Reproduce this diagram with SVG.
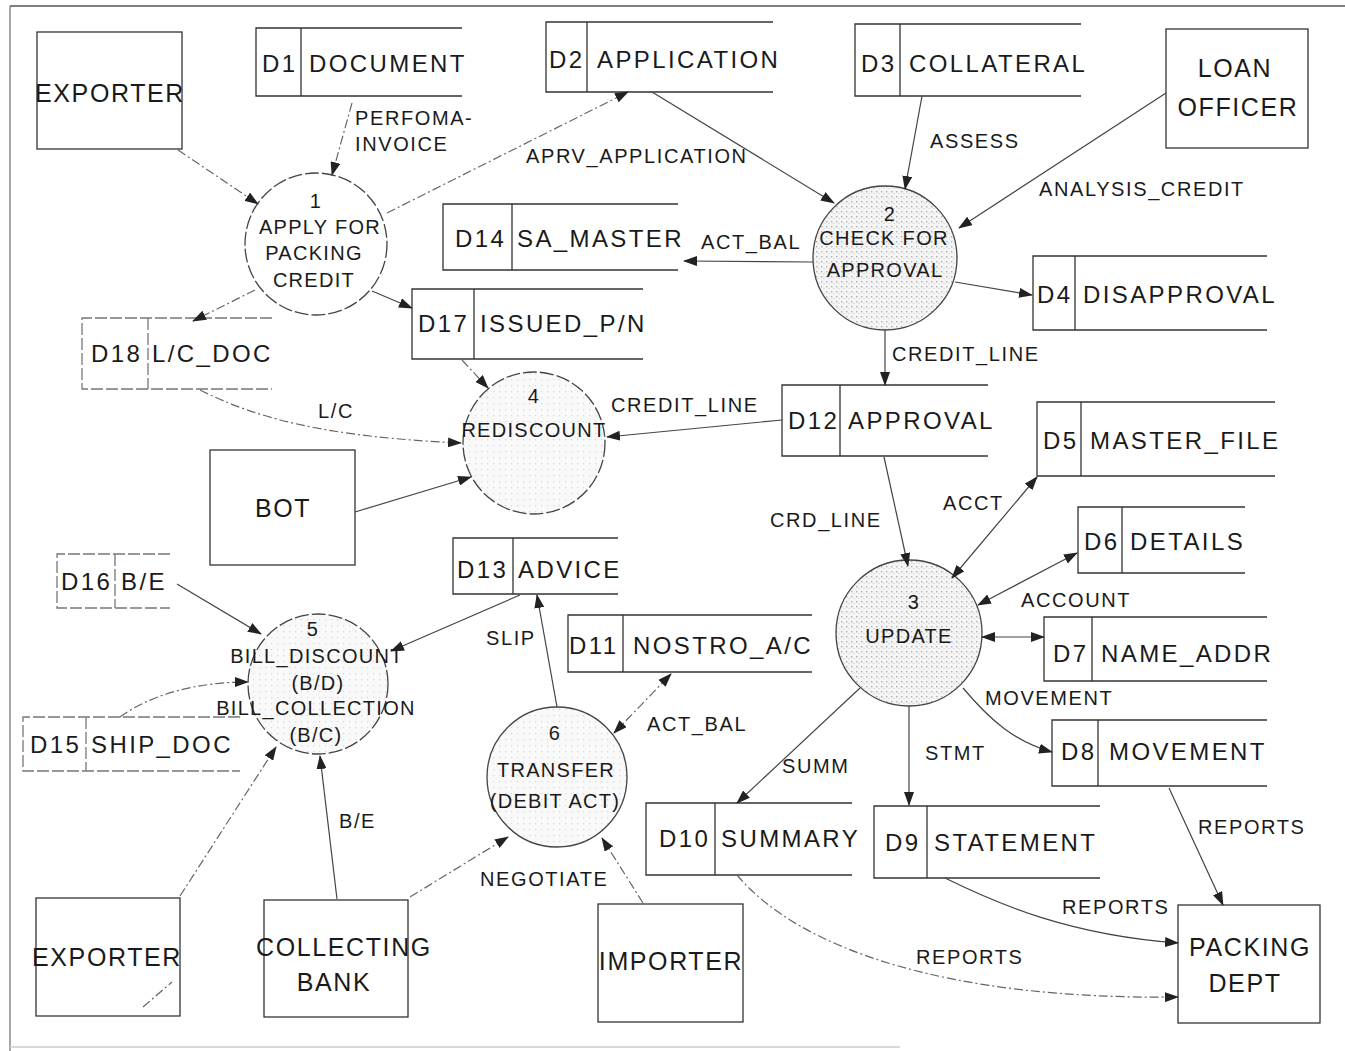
<svg xmlns="http://www.w3.org/2000/svg" width="1345" height="1051" viewBox="0 0 1345 1051">
  <defs>
    <style>
      text { font-family: "Liberation Sans", Arial, sans-serif; fill: #1a1a1a; }
      .store { font-size: 24px; letter-spacing: 2.4px; }
      .ent { font-size: 25px; letter-spacing: 1.6px; text-anchor: middle; }
      .proc { font-size: 20px; letter-spacing: 1.3px; text-anchor: middle; }
      .lbl { font-size: 20px; letter-spacing: 1.6px; }
      .box { fill: none; stroke: #333; stroke-width: 1.3; }
      .ln { fill: none; stroke: #333; stroke-width: 1.3; }
      .flow { fill: none; stroke: #444; stroke-width: 1.2; marker-end: url(#ah); }
      .dash { stroke-dasharray: 9 3 2 3; stroke: #666; }
      .both { marker-start: url(#ah); }
      .circ { stroke: #444; stroke-width: 1.3; }
      .faint { stroke: #777; stroke-dasharray: 12 3; }
    </style>
    <marker id="ah" viewBox="0 0 14 10" refX="13" refY="5" markerWidth="14" markerHeight="10" markerUnits="userSpaceOnUse" orient="auto-start-reverse">
      <path d="M0,0 L14,5 L0,10 Z" fill="#222"/>
    </marker>
    <pattern id="stipDark" width="5" height="5" patternUnits="userSpaceOnUse">
      <rect width="5" height="5" fill="#f5f5f5"/>
      <rect x="1" y="1" width="1.4" height="1.4" fill="#b0b0b0"/>
      <rect x="3.5" y="3" width="1" height="1" fill="#cacaca"/>
    </pattern>
    <pattern id="stipLight" width="6" height="6" patternUnits="userSpaceOnUse">
      <rect width="6" height="6" fill="#f9f9f9"/>
      <rect x="1" y="1" width="1.2" height="1.2" fill="#d6d6d6"/>
    </pattern>
  </defs>

  <rect width="1345" height="1051" fill="#ffffff"/>

  <!-- page frame -->
  <g id="frame" class="ln" stroke-width="1">
    <line x1="10" y1="6" x2="1345" y2="6" stroke="#555"/>
    <line x1="10" y1="6" x2="10" y2="1051" stroke="#777"/>
    <line x1="10" y1="1047" x2="900" y2="1047" stroke="#ccc"/>
  </g>

  <!-- external entities -->
  <g id="exporter-top">
    <rect class="box" x="37" y="32" width="145" height="117" fill="#fff"/>
    <text class="ent" x="110" y="102">EXPORTER</text>
  </g>
  <g id="loan-officer">
    <rect class="box" x="1166" y="29" width="142" height="119" fill="url(#stipLight)"/>
    <text class="ent" x="1235" y="77">LOAN</text>
    <text class="ent" x="1238" y="116">OFFICER</text>
  </g>
  <g id="bot">
    <rect class="box" x="210" y="450" width="145" height="115" fill="#fff"/>
    <text class="ent" x="283" y="517">BOT</text>
  </g>
  <g id="exporter-bottom">
    <rect class="box" x="36" y="898" width="144" height="118" fill="#fff"/>
    <text class="ent" x="107" y="966">EXPORTER</text>
  </g>
  <g id="collecting-bank">
    <rect class="box" x="264" y="900" width="144" height="117" fill="#fff"/>
    <text class="ent" x="344" y="956">COLLECTING</text>
    <text class="ent" x="334" y="991">BANK</text>
  </g>
  <g id="importer">
    <rect class="box" x="598" y="904" width="145" height="118" fill="#fff"/>
    <text class="ent" x="671" y="970">IMPORTER</text>
  </g>
  <g id="packing-dept">
    <rect class="box" x="1178" y="905" width="142" height="118" fill="url(#stipLight)"/>
    <text class="ent" x="1250" y="956">PACKING</text>
    <text class="ent" x="1245" y="992">DEPT</text>
  </g>

  <!-- data stores: open-ended boxes with an id cell -->
  <g id="d1">
    <path class="box" d="M462,28 H256 V96 H462 M301,28 V96"/>
    <text class="store" x="262" y="72">D1</text>
    <text class="store" x="309" y="72">DOCUMENT</text>
  </g>
  <g id="d2">
    <path class="box" d="M773,22 H546 V92 H773 M587,22 V92"/>
    <text class="store" x="549" y="68">D2</text>
    <text class="store" x="597" y="68">APPLICATION</text>
  </g>
  <g id="d3">
    <path class="box" d="M1081,24 H855 V96 H1081 M900,24 V96"/>
    <text class="store" x="861" y="72">D3</text>
    <text class="store" x="909" y="72">COLLATERAL</text>
  </g>
  <g id="d14">
    <path class="box" d="M678,204 H443 V270 H678 M512,204 V270"/>
    <text class="store" x="455" y="247">D14</text>
    <text class="store" x="517" y="247">SA_MASTER</text>
  </g>
  <g id="d4">
    <path class="box" d="M1267,256 H1033 V330 H1267 M1075,256 V330"/>
    <text class="store" x="1037" y="303">D4</text>
    <text class="store" x="1083" y="303">DISAPPROVAL</text>
  </g>
  <g id="d17">
    <path class="box" d="M643,289 H412 V359 H643 M474,289 V359"/>
    <text class="store" x="418" y="332">D17</text>
    <text class="store" x="480" y="332">ISSUED_P/N</text>
  </g>
  <g id="d18">
    <path class="box faint" d="M272,318 H82 V389 H272 M148,318 V389"/>
    <text class="store" x="91" y="362">D18</text>
    <text class="store" x="152" y="362">L/C_DOC</text>
  </g>
  <g id="d12">
    <path class="box" d="M988,385 H782 V456 H988 M840,385 V456"/>
    <text class="store" x="788" y="429">D12</text>
    <text class="store" x="848" y="429">APPROVAL</text>
  </g>
  <g id="d5">
    <path class="box" d="M1275,402 H1037 V476 H1275 M1081,402 V476"/>
    <text class="store" x="1043" y="449">D5</text>
    <text class="store" x="1090" y="449">MASTER_FILE</text>
  </g>
  <g id="d6">
    <path class="box" d="M1245,507 H1078 V573 H1245 M1122,507 V573"/>
    <text class="store" x="1084" y="550">D6</text>
    <text class="store" x="1130" y="550">DETAILS</text>
  </g>
  <g id="d7">
    <path class="box" d="M1267,617 H1044 V681 H1267 M1092,617 V681"/>
    <text class="store" x="1053" y="662">D7</text>
    <text class="store" x="1101" y="662">NAME_ADDR</text>
  </g>
  <g id="d8">
    <path class="box" d="M1267,720 H1052 V786 H1267 M1098,720 V786"/>
    <text class="store" x="1061" y="760">D8</text>
    <text class="store" x="1109" y="760">MOVEMENT</text>
  </g>
  <g id="d9">
    <path class="box" d="M1100,806 H874 V878 H1100 M927,806 V878"/>
    <text class="store" x="885" y="851">D9</text>
    <text class="store" x="934" y="851">STATEMENT</text>
  </g>
  <g id="d10">
    <path class="box" d="M852,803 H646 V875 H852 M715,803 V875"/>
    <text class="store" x="659" y="847">D10</text>
    <text class="store" x="721" y="847">SUMMARY</text>
  </g>
  <g id="d13">
    <path class="box" d="M618,538 H453 V594 H618 M513,538 V594"/>
    <text class="store" x="457" y="578">D13</text>
    <text class="store" x="518" y="578">ADVICE</text>
  </g>
  <g id="d16">
    <path class="box faint" d="M170,554 H57 V608 H170 M115,554 V608"/>
    <text class="store" x="61" y="590">D16</text>
    <text class="store" x="121" y="590">B/E</text>
  </g>
  <g id="d11">
    <path class="box" d="M812,615 H568 V672 H812 M623,615 V672"/>
    <text class="store" x="569" y="654">D11</text>
    <text class="store" x="633" y="654">NOSTRO_A/C</text>
  </g>
  <g id="d15">
    <path class="box faint" d="M240,717 H23 V771 H240 M86,717 V771"/>
    <text class="store" x="30" y="753">D15</text>
    <text class="store" x="91" y="753">SHIP_DOC</text>
  </g>

  <!-- processes -->
  <g id="p1">
    <circle class="circ" cx="316" cy="244" r="71" fill="#fff" stroke-dasharray="14 3"/>
    <text class="proc" x="316" y="208">1</text>
    <text class="proc" x="320" y="234">APPLY FOR</text>
    <text class="proc" x="314" y="260">PACKING</text>
    <text class="proc" x="314" y="287">CREDIT</text>
  </g>
  <g id="p2">
    <circle class="circ" cx="885" cy="258" r="72" fill="url(#stipDark)"/>
    <text class="proc" x="890" y="221">2</text>
    <text class="proc" x="884" y="245">CHECK FOR</text>
    <text class="proc" x="885" y="277">APPROVAL</text>
  </g>
  <g id="p4">
    <circle class="circ" cx="534" cy="443" r="71" fill="url(#stipLight)" stroke-dasharray="14 3"/>
    <text class="proc" x="534" y="403">4</text>
    <text class="proc" x="534" y="437">REDISCOUNT</text>
  </g>
  <g id="p3">
    <circle class="circ" cx="909" cy="633" r="73" fill="url(#stipDark)"/>
    <text class="proc" x="914" y="609">3</text>
    <text class="proc" x="909" y="643">UPDATE</text>
  </g>
  <g id="p5">
    <circle class="circ" cx="318" cy="684" r="70" fill="url(#stipLight)" stroke-dasharray="14 3"/>
    <text class="proc" x="313" y="636">5</text>
    <text class="proc" x="317" y="663">BILL_DISCOUNT</text>
    <text class="proc" x="318" y="690">(B/D)</text>
    <text class="proc" x="316" y="715">BILL_COLLECTION</text>
    <text class="proc" x="316" y="742">(B/C)</text>
  </g>
  <g id="p6">
    <circle class="circ" cx="557" cy="777" r="70" fill="url(#stipLight)"/>
    <text class="proc" x="555" y="740">6</text>
    <text class="proc" x="556" y="777">TRANSFER</text>
    <text class="proc" x="555" y="808">(DEBIT ACT)</text>
  </g>

  <!-- data flows -->
  <g id="connectors">
    <path class="flow dash" d="M178,150 L258,204"/>
    <path class="flow dash" d="M352,103 L332,175"/>
    <path class="flow dash" d="M387,213 L628,92"/>
    <path class="flow" d="M652,92 L834,203"/>
    <path class="flow" d="M922,96 L905,189"/>
    <path class="flow" d="M1166,93 L959,228"/>
    <path class="flow" d="M813,262 L684,261"/>
    <path class="flow" d="M955,282 L1032,295"/>
    <path class="flow" d="M885,330 L885,385"/>
    <path class="flow dash" d="M255,290 L193,321"/>
    <path class="flow" d="M372,291 L412,308"/>
    <path class="flow dash" d="M462,360 L488,388"/>
    <path class="flow dash" d="M200,390 C260,420 330,437 461,443"/>
    <path class="flow" d="M355,512 L471,477"/>
    <path class="flow" d="M782,420 L607,437"/>
    <path class="flow" d="M884,457 L908,566"/>
    <path class="flow both" d="M952,578 L1037,477"/>
    <path class="flow both" d="M978,605 L1077,553"/>
    <path class="flow both" d="M982,637 L1044,637"/>
    <path class="flow" d="M963,688 C990,720 1015,742 1052,752"/>
    <path class="flow" d="M909,706 L909,805"/>
    <path class="flow" d="M860,688 L737,803"/>
    <path class="flow" d="M1169,788 L1223,905"/>
    <path class="flow" d="M945,878 C1000,905 1070,935 1178,943"/>
    <path class="flow dash" d="M737,875 C800,950 950,1000 1178,997"/>
    <path class="flow" d="M520,595 L391,651"/>
    <path class="flow" d="M177,584 L261,634"/>
    <path class="flow dash" d="M120,717 C150,695 195,682 248,682"/>
    <path class="flow dash" d="M180,896 L276,747"/>
    <path class="ln dash" d="M143,1007 L172,982"/>
    <path class="flow" d="M337,899 L320,756"/>
    <path class="flow dash" d="M410,897 L508,837"/>
    <path class="flow dash" d="M643,903 L602,838"/>
    <path class="flow" d="M557,707 L537,595"/>
    <path class="flow both dash" d="M614,733 L671,674"/>
  </g>

  <!-- flow labels -->
  <g id="labels">
    <text class="lbl" x="355" y="125">PERFOMA-</text>
    <text class="lbl" x="355" y="151">INVOICE</text>
    <text class="lbl" x="526" y="163">APRV_APPLICATION</text>
    <text class="lbl" x="930" y="148">ASSESS</text>
    <text class="lbl" x="1039" y="196">ANALYSIS_CREDIT</text>
    <text class="lbl" x="701" y="249">ACT_BAL</text>
    <text class="lbl" x="892" y="361">CREDIT_LINE</text>
    <text class="lbl" x="318" y="418">L/C</text>
    <text class="lbl" x="611" y="412">CREDIT_LINE</text>
    <text class="lbl" x="770" y="527">CRD_LINE</text>
    <text class="lbl" x="943" y="510">ACCT</text>
    <text class="lbl" x="1021" y="607">ACCOUNT</text>
    <text class="lbl" x="985" y="705">MOVEMENT</text>
    <text class="lbl" x="925" y="760">STMT</text>
    <text class="lbl" x="782" y="773">SUMM</text>
    <text class="lbl" x="1198" y="834">REPORTS</text>
    <text class="lbl" x="1062" y="914">REPORTS</text>
    <text class="lbl" x="916" y="964">REPORTS</text>
    <text class="lbl" x="486" y="645">SLIP</text>
    <text class="lbl" x="647" y="731">ACT_BAL</text>
    <text class="lbl" x="339" y="828">B/E</text>
    <text class="lbl" x="480" y="886">NEGOTIATE</text>
  </g>
</svg>
